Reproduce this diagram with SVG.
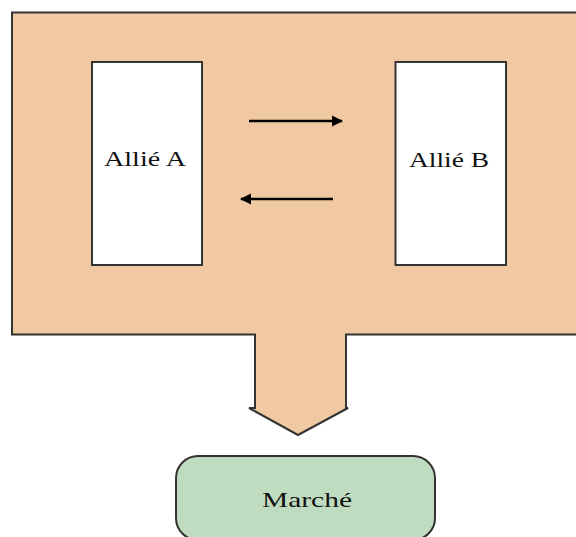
<svg xmlns="http://www.w3.org/2000/svg" width="576" height="537" viewBox="0 0 576 537">
  <style>
    .lbl { font-family: "Liberation Serif", "DejaVu Serif", serif; font-size: 22px; fill: #111; text-anchor: middle; }
    .box { fill: #ffffff; stroke: #333333; stroke-width: 2; }
    .conn { stroke: #000000; stroke-width: 2.5; fill: none; }
  </style>
  <defs>
    <marker id="ah" viewBox="0 0 10 10" refX="9" refY="5" markerWidth="4.5" markerHeight="4.5" orient="auto" markerUnits="strokeWidth">
      <path d="M0,0 L10,5 L0,10 Z" fill="#000000"/>
    </marker>
  </defs>
  <rect width="576" height="537" fill="#ffffff"/>
  <g id="alliance">
    <path d="M12,12.5 H590 V334.5 H346 V408 H348 L298,435 L249,408 H255 V334.5 H12 Z" fill="#F0C8A2" stroke="#333333" stroke-width="2" stroke-linejoin="miter"/>
  </g>
  <g id="allieA">
    <rect class="box" x="92" y="62" width="110" height="203"/>
    <text class="lbl" x="145" y="166" textLength="82" lengthAdjust="spacingAndGlyphs">Allié A</text>
  </g>
  <g id="allieB">
    <rect class="box" x="395.5" y="62" width="110.5" height="203"/>
    <text class="lbl" x="449" y="166.5" textLength="80" lengthAdjust="spacingAndGlyphs">Allié B</text>
  </g>
  <g id="connectors">
    <line class="conn" x1="249" y1="121" x2="342" y2="121" marker-end="url(#ah)"/>
    <line class="conn" x1="333" y1="199" x2="241" y2="199" marker-end="url(#ah)"/>
  </g>
  <g id="marche">
    <rect x="176" y="456" width="259" height="84" rx="22" ry="22" fill="#C0DCC0" stroke="#333333" stroke-width="2"/>
    <text class="lbl" x="307" y="507" textLength="90" lengthAdjust="spacingAndGlyphs">Marché</text>
  </g>
</svg>
